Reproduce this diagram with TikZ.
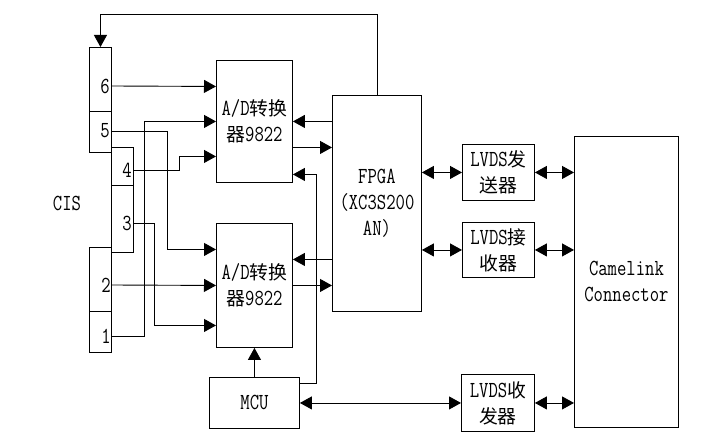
\documentclass[tikz,border=0pt]{standalone}
\usetikzlibrary{arrows.meta, positioning}
\usepackage{fontspec}
\setmainfont{Latin Modern Mono}[FakeStretch=0.79]
\newfontfamily\cjk{Noto Sans CJK SC}[Scale=0.82]
\newcommand{\zh}[1]{{\cjk #1}}
\def\cellw{22pt}

\begin{document}
\begin{tikzpicture}[x=1pt, y=-1pt, line width=0.9pt, >={Triangle[length=12pt,width=13pt]}]
    \tikzstyle{every node}=[font=\fontsize{23}{26}\selectfont]
    \tikzstyle{block}=[draw, rectangle, inner sep=0pt, anchor=north west, align=center]
    \tikzstyle{cell}=[block, minimum width=\cellw]
    \tikzstyle{pinlabel}=[inner sep=0pt]
    \useasboundingbox (0,0) rectangle (706,441);

    % Draw the CIS connector cells and their pin numbers
    \foreach \name / \x / \y / \h in {6/89/47/64, 5/89/111/41, 4/111/147/38, 3/111/185/67, 2/89/247/64, 1/89/311/41}
        \node[cell, minimum height=\h pt] (C-\name) at (\x,\y) {};
    \foreach \name / \x / \y in {6/105/86, 5/105/131, 4/127/170, 3/127/223, 2/106/285, 1/106/336}
        \node[pinlabel] (L-\name) at (\x,\y) {\name};
    \node (cis) at (67,203) {CIS};

    % Draw the converters, the FPGA and the MCU
    \node[block, minimum width=76pt, minimum height=122pt] (adcA) at (216,60) {A/D\zh{转换}\\\zh{器}9822};
    \node[block, minimum width=76pt, minimum height=124pt] (adcB) at (216,223) {A/D\zh{转换}\\\zh{器}9822};
    \node[block, minimum width=89pt, minimum height=216pt] (fpga) at (332,95) {FPGA\\(XC3S200\\AN)};
    \node[block, minimum width=90pt, minimum height=51pt] (mcu) at (209,377) {MCU};

    % Draw the LVDS parts and the Camelink connector
    \node[block, minimum width=72pt, minimum height=56pt] (tx) at (462,144) {LVDS\zh{发}\\\zh{送器}};
    \node[block, minimum width=72pt, minimum height=55pt] (rx) at (462,222) {LVDS\zh{接}\\\zh{收器}};
    \node[block, minimum width=73pt, minimum height=57pt] (trx) at (461,374) {LVDS\zh{收}\\\zh{发器}};
    \node[block, minimum width=104pt, minimum height=291pt] (cam) at (574,136) {Camelink\\Connector};

    % Connect the CIS pins with the converter inputs
    \draw[->] (L-6 -| C-6.east) -- ([yshift=35pt]adcA.west);
    \draw[->] (L-1 -| C-1.east) -- ++(33,0) |- (adcA.west);
    \draw[->] (L-4 -| C-4.east) -- ++(46,0) |- ([yshift=-35pt]adcA.west);
    \draw[->] (L-5 -| C-5.east) -- ++(56,0) |- ([yshift=36pt]adcB.west);
    \draw[->] (L-2 -| C-2.east) -- (adcB.west);
    \draw[->] (L-3 -| C-3.east) -- ++(21,0) |- ([yshift=-40pt]adcB.west);

    % Converters and FPGA
    \draw[<-] (adcA.east) -- (adcA.east -| fpga.west);
    \draw[->] ([yshift=-26pt]adcA.east) -- ([yshift=-26pt]adcA.east -| fpga.west);
    \draw[<-] ([yshift=26pt]adcB.east) -- ([yshift=26pt]adcB.east -| fpga.west);
    \draw[->] (adcB.east) -- (adcB.east -| fpga.west);

    % MCU to the converters
    \draw[->] ([yshift=-6pt]mcu.north east) -- ++(17,0) |- ([yshift=-53pt]adcA.east);
    \draw[->] (mcu.north) -- (adcB.south);

    % Feedback from the FPGA to the CIS
    \draw[->] (fpga.north) -- ++(0,-81) -| (C-6.north);

    % LVDS links
    \draw[<->] (tx.west -| fpga.east) -- (tx.west);
    \draw[<->] (rx.west -| fpga.east) -- (rx.west);
    \draw[<->] (mcu.east) -- (trx.west);
    \draw[<->] (tx.east) -- (tx.east -| cam.west);
    \draw[<->] (rx.east) -- (rx.east -| cam.west);
    \draw[<->] (trx.east) -- (trx.east -| cam.west);
\end{tikzpicture}
\end{document}
